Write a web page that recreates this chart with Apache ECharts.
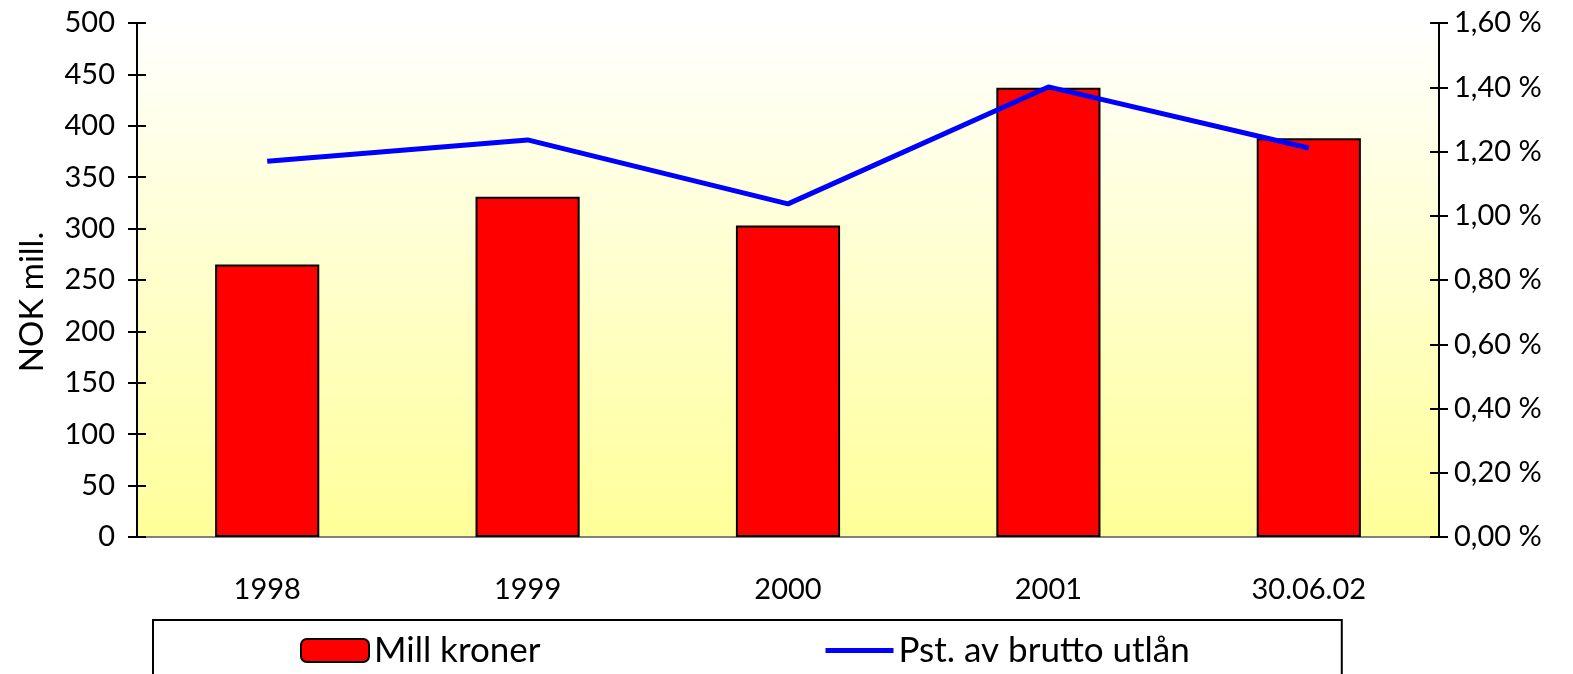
<!DOCTYPE html>
<html>
<head>
<meta charset="utf-8">
<script src="https://cdn.jsdelivr.net/npm/echarts@6/dist/echarts.min.js"></script>
<style>
	html, body { margin: 0; padding: 0; background: #fff; }
	#chart { width: 1573px; height: 674px; }
</style>
</head>
<body>
<div id="chart"></div>
<script>
var categories = ['1998', '1999', '2000', '2001', '30.06.02'];
var millKroner = [265, 331, 303, 437, 388];
var pstBrutto = [1.17, 1.236, 1.037, 1.401, 1.211];
var leftTicks = { min: 0, max: 500, interval: 50 };
var rightTicks = { min: 0, max: 1.6, interval: 0.2 };

var font = 'Lato';

function pct(v){
	return v.toFixed(2).replace('.', ',') + ' %';
}

var option = {
	backgroundColor: '#ffffff',
	textStyle: { fontFamily: font, color: '#000' },
	animation: false,
	grid: {
		left: 137, right: 134, top: 23, bottom: 137,
		show: true,
		borderWidth: 0,
		backgroundColor: {
			type: 'linear', x: 0, y: 0, x2: 0, y2: 1,
			colorStops: [
				{ offset: 0, color: '#ffffff' },
				{ offset: 1, color: '#ffff99' }
			]
		}
	},
	legend: {
		left: 153,
		top: 620,
		itemGap: 285,
		itemWidth: 68,
		itemHeight: 23,
		padding: [13, 152, 30, 147],
		borderColor: '#000',
		borderWidth: 2,
		backgroundColor: '#fff',
		textStyle: { fontFamily: font, fontSize: 35, color: '#000' },
		data: [
			{ name: 'Mill kroner' },
			{ name: 'Pst. av brutto utlån', icon: 'path://M0,0L68,0L68,5L0,5Z', itemStyle: { color: '#0000ff' } }
		]
	},
	xAxis: [
		{
			type: 'category',
			data: categories,
			position: 'bottom',
			boundaryGap: true,
			axisLine: { lineStyle: { color: '#000', width: 2 } },
			axisTick: { length: 9, lineStyle: { color: '#000', width: 2 } },
			axisLabel: { fontFamily: font, fontSize: 29, color: '#000', margin: 38 }
		},
		{
			type: 'category',
			data: categories,
			position: 'bottom',
			axisLine: { show: false },
			axisTick: { inside: true, length: 9, lineStyle: { color: '#000', width: 2 } },
			axisLabel: { show: false }
		},
		{
			type: 'category',
			data: categories,
			position: 'top',
			axisLine: { lineStyle: { color: '#808080', width: 2 } },
			axisTick: { show: false },
			axisLabel: { show: false }
		}
	],
	yAxis: [
		{
			type: 'value',
			min: leftTicks.min, max: leftTicks.max, interval: leftTicks.interval,
			position: 'left',
			name: 'NOK mill.',
			nameLocation: 'middle',
			nameGap: 88,
			nameTextStyle: { fontFamily: font, fontSize: 33, color: '#000', padding: [0, 44, 0, 0] },
			axisLine: { show: true, lineStyle: { color: '#000', width: 2 } },
			axisTick: { show: true, length: 9, lineStyle: { color: '#000', width: 2 } },
			axisLabel: { fontFamily: font, fontSize: 29, color: '#000', margin: 22 },
			splitLine: { show: false }
		},
		{
			type: 'value',
			min: rightTicks.min, max: rightTicks.max, interval: rightTicks.interval,
			position: 'right',
			axisLine: { show: true, lineStyle: { color: '#000', width: 2 } },
			axisTick: { show: true, length: 9, lineStyle: { color: '#000', width: 2 } },
			axisLabel: { fontFamily: font, fontSize: 29, color: '#000', margin: 15, formatter: pct },
			splitLine: { show: false }
		},
		{
			type: 'value',
			min: leftTicks.min, max: leftTicks.max, interval: leftTicks.interval,
			position: 'left',
			axisLine: { show: false },
			axisTick: { show: true, inside: true, length: 9, lineStyle: { color: '#000', width: 2 } },
			axisLabel: { show: false },
			splitLine: { show: false }
		},
		{
			type: 'value',
			min: rightTicks.min, max: rightTicks.max, interval: rightTicks.interval,
			position: 'right',
			axisLine: { show: false },
			axisTick: { show: true, inside: true, length: 9, lineStyle: { color: '#000', width: 2 } },
			axisLabel: { show: false },
			splitLine: { show: false }
		}
	],
	series: [
		{
			name: 'Mill kroner',
			type: 'bar',
			xAxisIndex: 0,
			yAxisIndex: 0,
			data: millKroner,
			barWidth: '40%',
			itemStyle: { color: '#ff0000', borderColor: '#000', borderWidth: 2 }
		},
		{
			name: 'Pst. av brutto utlån',
			type: 'line',
			xAxisIndex: 0,
			yAxisIndex: 1,
			data: pstBrutto,
			symbol: 'none',
			lineStyle: { color: '#0000ff', width: 5 },
			itemStyle: { color: '#0000ff' }
		}
	]
};

var myChart = echarts.init(document.getElementById('chart'));
myChart.setOption(option);
</script>
</body>
</html>
